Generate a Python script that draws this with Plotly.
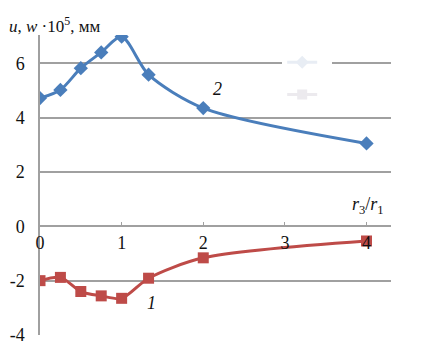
import plotly.graph_objects as go

# data
ratio = [0, 0.25, 0.5, 0.75, 1.0, 1.33, 2.0, 4.0]
w_vals = [4.72, 5.02, 5.82, 6.40, 6.98, 5.58, 4.35, 3.05]   # curve 2
u_vals = [-2.0, -1.88, -2.40, -2.56, -2.65, -1.91, -1.16, -0.54]  # curve 1
x_ticks = [0, 1, 2, 3, 4]
y_ticks = [-4, -2, 0, 2, 4, 6]
y_tick_text = ["-4", "-2", "0", "2", "4", "6"]

BLUE = "#4a7ebb"
RED = "#be4b48"
GRID = "#a0a0a0"
FONT = "Liberation Serif"

fig = go.Figure()
fig.add_trace(go.Scatter(
    x=ratio, y=w_vals, mode="lines+markers",
    line=dict(color=BLUE, width=3, shape="spline", smoothing=0.8),
    marker=dict(symbol="diamond", size=11, color=BLUE),
    showlegend=False))
fig.add_trace(go.Scatter(
    x=ratio, y=u_vals, mode="lines+markers",
    line=dict(color=RED, width=3, shape="spline", smoothing=0.8),
    marker=dict(symbol="square", size=11, color=RED),
    showlegend=False))
# faint ghost legend entries
fig.add_trace(go.Scatter(x=[None], y=[None], mode="lines+markers", name=" ",
                         line=dict(color="#e8edf4", width=3),
                         marker=dict(symbol="diamond", size=10, color="#e8edf4"),
                         legendgroup="a"))
fig.add_trace(go.Scatter(x=[None], y=[None], mode="lines+markers", name=" ",
                         line=dict(color="#eceaee", width=3),
                         marker=dict(symbol="square", size=10, color="#eceaee"),
                         legendgroup="b"))

# the page body adds an 8px offset; margins compensate for it
fig.update_layout(
    width=421, height=356,
    margin=dict(l=32, r=38, t=27, b=29, autoexpand=False),
    paper_bgcolor="white", plot_bgcolor="white",
    font=dict(family=FONT, size=17, color="#111"),
    legend=dict(x=0.69, y=0.97, xanchor="left", yanchor="top",
                bgcolor="white", font=dict(size=18), tracegroupgap=6,
                itemwidth=30),
    xaxis=dict(range=[0, 4.3], tickvals=x_ticks, showgrid=False, zeroline=False,
               showline=True, linecolor=GRID, linewidth=1.5, automargin=False,
               anchor="free", position=4 / 11.04,
               ticks="inside", ticklen=4, tickcolor=GRID,
               tickfont=dict(family=FONT, size=18, color="#111")),
    yaxis=dict(range=[-4, 7.04], tickvals=y_ticks, ticktext=y_tick_text,
               showgrid=True, gridcolor=GRID,
               gridwidth=1.5, zeroline=False, showline=True, linecolor=GRID,
               linewidth=1.5, ticks="", ticklabelstandoff=10, automargin=False,
               tickfont=dict(family=FONT, size=18, color="#111")),
    annotations=[
        dict(text="<i>u</i>, <i>w</i> ·10<sup>5</sup>, мм", xref="paper", yref="paper",
             x=-0.093, y=1.035, xanchor="left", yanchor="middle", showarrow=False,
             font=dict(family=FONT, size=17, color="#111")),
        dict(text="<i>r</i><sub>3</sub>/<i>r</i><sub>1</sub>", xref="x", yref="y",
             x=4.02, y=0.75, xanchor="center", yanchor="middle", showarrow=False,
             font=dict(family=FONT, size=18, color="#111")),
        dict(text="<i>2</i>", xref="x", yref="y", x=2.17, y=5.04, showarrow=False,
             font=dict(family=FONT, size=18, color="#111")),
        dict(text="<i>1</i>", xref="x", yref="y", x=1.37, y=-2.83, showarrow=False,
             font=dict(family=FONT, size=18, color="#111")),
    ],
)

fig.write_html("out.html")
